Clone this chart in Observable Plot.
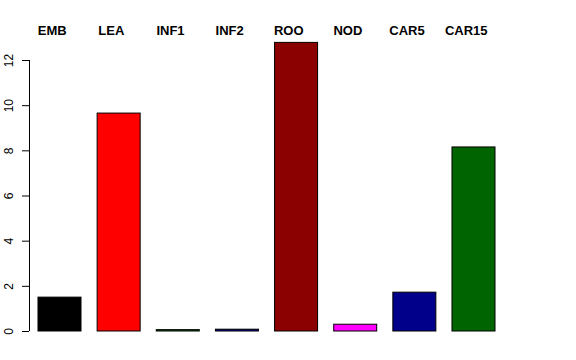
<!DOCTYPE html>
<html>
<head>
<meta charset="utf-8">
<script src="https://cdn.jsdelivr.net/npm/d3@7"></script>
<script src="https://cdn.jsdelivr.net/npm/@observablehq/plot@0.6"></script>
<style>
  html, body { margin: 0; padding: 0; background: #fff; }
  #chart svg { display: block; }
</style>
</head>
<body>
<div id="chart"></div>
<script>
const categories = ["EMB", "LEA", "INF1", "INF2", "ROO", "NOD", "CAR5", "CAR15"];
const values = [1.5, 9.65, 0.06, 0.08, 12.78, 0.3, 1.72, 8.15];
const colors = ["black", "red", "darkgreen", "darkblue", "darkred", "magenta", "darkblue", "darkgreen"];
const yTicks = [0, 2, 4, 6, 8, 10, 12];

const space = 0.375;      // gap between bars, in bar widths
const axisX = 0.166;      // x position of the y axis line
const unitPx = 466 / (11 - axisX);
const tickLen = 7 / unitPx;
const labelShift = 7.8 / unitPx;

const data = categories.map((c, i) => ({
  cat: c,
  value: values[i],
  color: colors[i],
  x1: space + i * (1 + space),
  x2: space + i * (1 + space) + 1,
  lx: space + 0.5 + i * (1 + space) - labelShift
}));

const chart = Plot.plot({
  width: 576,
  height: 360,
  style: {background: "white", fontFamily: "Liberation Sans, Arial, sans-serif"},
  x: {type: "linear", domain: [axisX, 11], range: [29, 495], axis: null},
  y: {type: "linear", domain: [0, 12], range: [331, 60], axis: null},
  marks: [
    Plot.rectY(data, {x1: "x1", x2: "x2", y1: 0, y2: "value", fill: "color", stroke: "black", strokeWidth: 1}),
    Plot.ruleX([axisX], {y1: 0, y2: 12, stroke: "black"}),
    Plot.ruleY(yTicks, {y: d => d, x1: axisX, x2: axisX - tickLen, stroke: "black"}),
    Plot.text(yTicks, {y: d => d, x: axisX, dx: -20, rotate: -90, text: d => String(d), fontSize: 12, fill: "black", textAnchor: "middle", lineAnchor: "middle"}),
    Plot.text(data, {x: "lx", y: 12, dy: -30, text: "cat", fontSize: 13, fontWeight: "bold", fill: "black", textAnchor: "middle", lineAnchor: "middle"})
  ]
});
document.getElementById("chart").appendChild(chart);
</script>
</body>
</html>
